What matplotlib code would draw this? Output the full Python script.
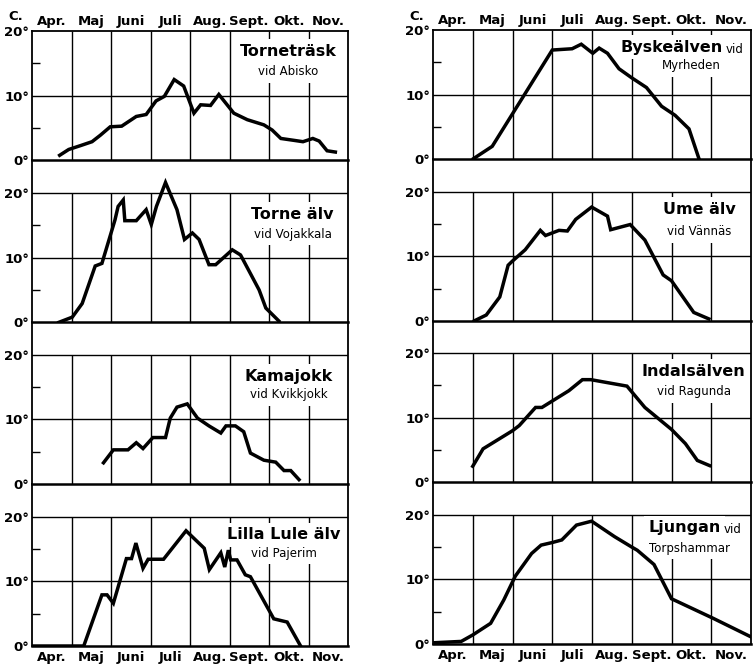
import matplotlib
matplotlib.use("Agg")
import matplotlib.pyplot as plt
from matplotlib.transforms import blended_transform_factory

plt.rcParams['font.family'] = ['DejaVu Sans']

months = ["Apr.", "Maj", "Juni", "Juli", "Aug.", "Sept.", "Okt.", "Nov."]
major_ticks = [0, 10, 20]
minor_ticks = [5, 15]

# ---- left column ----
tornetrask_x = [0.70, 0.93, 1.23, 1.52, 1.73, 1.98, 2.27, 2.64, 2.89, 3.14, 3.35, 3.60, 3.84,
                4.10, 4.27, 4.52, 4.73, 5.11, 5.45, 5.87, 6.08, 6.30, 6.64, 6.86, 7.11, 7.27, 7.47, 7.68]
tornetrask_y = [0.8, 1.7, 2.3, 2.9, 3.9, 5.2, 5.3, 6.8, 7.1, 9.2, 9.9, 12.5, 11.5,
                7.3, 8.6, 8.5, 10.2, 7.3, 6.3, 5.5, 4.7, 3.4, 3.1, 2.9, 3.4, 3.0, 1.5, 1.3]

tornealv_x = [0.68, 1.02, 1.27, 1.60, 1.77, 2.10, 2.18, 2.31, 2.35, 2.64, 2.89, 3.02, 3.15, 3.38,
              3.67, 3.86, 4.06, 4.23, 4.48, 4.65, 5.07, 5.28, 5.75, 5.92, 6.25]
tornealv_y = [0.0, 0.8, 2.9, 8.7, 9.1, 15.8, 17.9, 18.9, 15.7, 15.7, 17.4, 15.1, 17.9, 21.6,
              17.4, 12.8, 13.8, 12.8, 8.9, 8.9, 11.2, 10.4, 5.0, 2.2, 0.2]

kamajokk_x = [1.81, 2.06, 2.43, 2.64, 2.81, 3.06, 3.38, 3.50, 3.67, 3.93, 4.19, 4.48, 4.78,
              4.91, 5.15, 5.36, 5.53, 5.87, 6.17, 6.38, 6.55, 6.76]
kamajokk_y = [3.3, 5.3, 5.3, 6.4, 5.5, 7.2, 7.2, 10.2, 11.9, 12.4, 10.2, 9.0, 7.9,
              9.0, 9.0, 8.1, 4.8, 3.7, 3.4, 2.1, 2.1, 0.7]

lillalule_x = [0.00, 1.31, 1.77, 1.90, 2.06, 2.39, 2.52, 2.63, 2.81, 2.94, 3.33, 3.90, 4.36,
               4.49, 4.78, 4.88, 4.97, 5.03, 5.19, 5.40, 5.53, 6.12, 6.46, 6.80]
lillalule_y = [0.0, 0.0, 7.9, 7.9, 6.6, 13.5, 13.5, 15.9, 12.0, 13.4, 13.4, 17.8, 15.1,
               11.8, 14.4, 12.2, 14.8, 13.3, 13.3, 11.0, 10.7, 4.2, 3.7, 0.0]

# ---- right column ----
byske_x = [1.02, 1.49, 3.00, 3.50, 3.73, 4.02, 4.18, 4.39, 4.68, 5.00, 5.37, 5.75, 6.09, 6.44, 6.69]
byske_y = [0.1, 2.0, 16.9, 17.1, 17.8, 16.4, 17.2, 16.4, 14.0, 12.6, 11.1, 8.2, 6.8, 4.7, 0.1]

ume_x = [1.04, 1.34, 1.68, 1.89, 1.99, 2.32, 2.70, 2.83, 3.17, 3.38, 3.59, 3.99, 4.39, 4.47,
         4.96, 5.33, 5.79, 6.00, 6.56, 6.94]
ume_y = [0.0, 0.9, 3.7, 8.6, 9.2, 11.0, 14.0, 13.2, 14.0, 13.9, 15.7, 17.6, 16.2, 14.1,
         14.9, 12.5, 7.1, 6.2, 1.3, 0.3]

indals_x = [1.00, 1.26, 2.00, 2.17, 2.58, 2.74, 3.42, 3.76, 3.97, 4.88, 5.33, 6.00, 6.35, 6.65, 6.96]
indals_y = [2.5, 5.2, 8.0, 8.8, 11.6, 11.6, 14.2, 15.9, 15.9, 14.9, 11.6, 8.2, 6.0, 3.4, 2.6]

ljungan_x = [0.04, 0.71, 1.00, 1.45, 1.78, 2.07, 2.48, 2.72, 3.00, 3.24, 3.61, 3.99, 4.57,
             5.00, 5.14, 5.56, 6.00, 7.04, 8.00]
ljungan_y = [0.2, 0.4, 1.4, 3.2, 6.8, 10.5, 14.0, 15.3, 15.7, 16.1, 18.4, 19.0, 16.6,
             15.0, 14.5, 12.3, 7.0, 4.0, 1.1]

left_panels = [
    ("Torneträsk", "vid Abisko", tornetrask_x, tornetrask_y),
    ("Torne älv", "vid Vojakkala", tornealv_x, tornealv_y),
    ("Kamajokk", "vid Kvikkjokk", kamajokk_x, kamajokk_y),
    ("Lilla Lule älv", "vid Pajerim", lillalule_x, lillalule_y),
]
right_panels = [
    ("Byskeälven", "Myrheden", byske_x, byske_y),
    ("Ume älv", "vid Vännäs", ume_x, ume_y),
    ("Indalsälven", "vid Ragunda", indals_x, indals_y),
    ("Ljungan", "Torpshammar", ljungan_x, ljungan_y),
]
# label positions (data coords) for the title lines
left_label_pos = [(6.48, 16.9, 13.7), (6.6, 16.7, 13.6), (6.5, 16.7, 13.8), (6.38, 17.2, 14.3)]
right_label_pos = [(6.5, 17.3, 14.5), (6.69, 17.3, 13.8), (6.56, 17.2, 14.0), (6.45, 18.0, 14.8)]
inline_vid = [True, False, False, True]

W, H = 753, 669
fig = plt.figure(figsize=(W / 100, H / 100), dpi=100)
ymaxes = [20, 25, 25, 25]

def make_column(x0, x1, bottom, top, panels, label_pos, inline):
    total = sum(ymaxes)
    ppd = (bottom - top) / total
    axes = []
    cur_bottom = bottom
    for i in range(3, -1, -1):
        h = ymaxes[i] * ppd
        ax = fig.add_axes([x0 / W, 1 - cur_bottom / H, (x1 - x0) / W, h / H])
        axes.insert(0, ax)
        cur_bottom -= h
    for i, ax in enumerate(axes):
        name, sub, xs, ys = panels[i]
        ax.set_xlim(0, len(months))
        ax.set_ylim(0, ymaxes[i])
        # grid
        ax.vlines(range(1, len(months)), 0, 20, color='black', lw=1.0, zorder=1)
        ax.axhline(10, color='black', lw=1.0, zorder=1)
        if ymaxes[i] > 20:
            ax.axhline(20, color='black', lw=1.0, zorder=1)
        ax.plot(xs, ys, color='black', lw=2.5, solid_joinstyle='miter', zorder=5)
        for s in ax.spines.values():
            s.set_linewidth(1.3)
            s.set_zorder(4)
        ax.spines['bottom'].set_linewidth(1.8)
        ax.set_xticks([])
        ax.set_yticks(major_ticks)
        ax.set_yticklabels([f"{t}°" for t in major_ticks], fontsize=9.5, fontweight='bold')
        ax.tick_params(axis='y', which='major', length=0, pad=2)
        ax.set_yticks(minor_ticks, minor=True)
        ax.tick_params(axis='y', which='minor', direction='in', length=6, width=1.0)
        # labels
        lx, ly1, ly2 = label_pos[i]
        bb = dict(facecolor='white', edgecolor='none', pad=3.2)
        if inline[i]:
            ax.text(lx + 0.78, ly1, name, ha='right', va='center', fontsize=11.5,
                    fontweight='bold', zorder=2, bbox=bb)
            ax.text(lx + 0.85, ly1 - 0.3, "vid", ha='left', va='center', fontsize=8.5,
                    zorder=2, bbox=bb)
        else:
            ax.text(lx, ly1, name, ha='center', va='center', fontsize=11.5,
                    fontweight='bold', zorder=2, bbox=bb)
        ax.text(lx, ly2, sub, ha='center', va='center', fontsize=8.5, zorder=2, bbox=bb)
    # month labels
    tr_top = blended_transform_factory(axes[0].transData, axes[0].transAxes)
    tr_bot = blended_transform_factory(axes[-1].transData, axes[-1].transAxes)
    off_top = 9.5 / (ymaxes[0] * ppd)
    off_bot = 11.5 / (ymaxes[-1] * ppd)
    for k, m in enumerate(months):
        axes[0].text(k + 0.5, 1 + off_top, m, transform=tr_top, ha='center', va='center',
                     fontsize=9.5, fontweight='bold')
        axes[-1].text(k + 0.5, -off_bot, m, transform=tr_bot, ha='center', va='center',
                      fontsize=9.5, fontweight='bold')
    return axes

make_column(32, 348, 646, 31, left_panels, left_label_pos, [False, False, False, False])
make_column(433, 751, 644, 30, right_panels, right_label_pos, inline_vid)

fig.text(16 / W, 1 - 17 / H, "C.", ha='center', va='center', fontsize=9.5, fontweight='bold')
fig.text(417 / W, 1 - 16 / H, "C.", ha='center', va='center', fontsize=9.5, fontweight='bold')

fig.savefig("out.png", dpi=100, facecolor='white')
